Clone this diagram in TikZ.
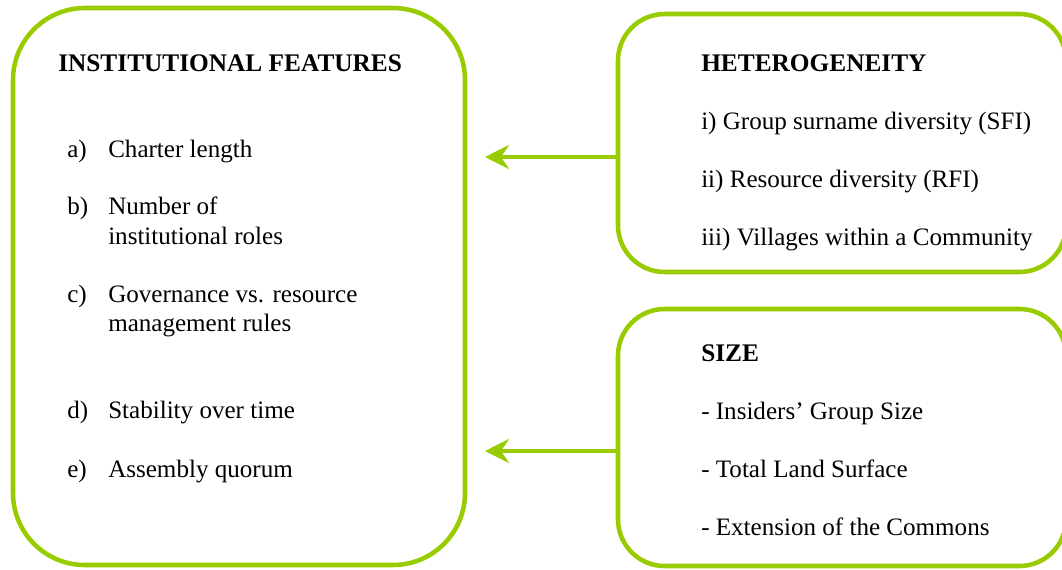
\documentclass[tikz,border=0pt]{standalone}
\usepackage{fontspec}
\setmainfont{Liberation Serif}
\usetikzlibrary{arrows.meta}
\definecolor{lgreen}{RGB}{153,204,0}
\begin{document}
\begin{tikzpicture}[x=0.75pt,y=-0.75pt,
  frame/.style={draw=lgreen, line width=3.4pt, rectangle, inner sep=0pt},
  txt/.style={anchor=base west, inner sep=0pt, font=\fontsize{18.8}{22.5}\selectfont},
  head/.style={txt, font=\fontsize{19}{22.5}\selectfont\bfseries},
  link/.style={draw=lgreen, line width=3.2pt, -{Stealth[length=18pt,width=18pt,inset=6pt]}}]
\useasboundingbox (0,0) rectangle (1062,569);
\begin{scope}
\clip (0,0) rectangle (1062,569);
% boxes
\node[frame, rounded corners=54pt, minimum width=452*0.75pt, minimum height=557*0.75pt] (inst) at (239,286.5) {};
\node[frame, rounded corners=35pt, minimum width=448*0.75pt, minimum height=258*0.75pt] (het) at (842,143) {};
\node[frame, rounded corners=35pt, minimum width=448*0.75pt, minimum height=257*0.75pt] (size) at (842,437.5) {};
\end{scope}
% arrows
\coordinate (t1) at (485,157);
\coordinate (t2) at (485,451);
\draw[link] (het.west |- t1) -- (t1);
\draw[link] (size.west |- t2) -- (t2);
% left box text
\node[head] (ih) at (58,71) {INSTITUTIONAL FEATURES};
\node[txt] (la) at (67,157) {a)};
\node[txt] (ta) at (108,157) {Charter length};
\node[txt] (lb) at (67,214) {b)};
\node[txt] (tb1) at (108,214) {Number of};
\node[txt] (tb2) at (108,244) {institutional roles};
\node[txt] (lc) at (67,302) {c)};
\node[txt] (tc1) at (108,302) {Governance vs. resource};
\node[txt] (tc2) at (108,331) {management rules};
\node[txt] (ld) at (67,418) {d)};
\node[txt] (td) at (108,418) {Stability over time};
\node[txt] (le) at (67,477) {e)};
\node[txt] (te) at (108,477) {Assembly quorum};
% heterogeneity text
\node[head] (hh) at (701,71) {HETEROGENEITY};
\node[txt] (h1) at (701,129) {i) Group surname diversity (SFI)};
\node[txt] (h2) at (701,187) {ii) Resource diversity (RFI)};
\node[txt] (h3) at (701,245) {iii) Villages within a Community};
% size text
\node[head] (sh) at (701,361) {SIZE};
\node[txt] (s1) at (701,419) {- Insiders’ Group Size};
\node[txt] (s2) at (701,477) {- Total Land Surface};
\node[txt] (s3) at (701,535) {- Extension of the Commons};
\end{tikzpicture}
\end{document}
